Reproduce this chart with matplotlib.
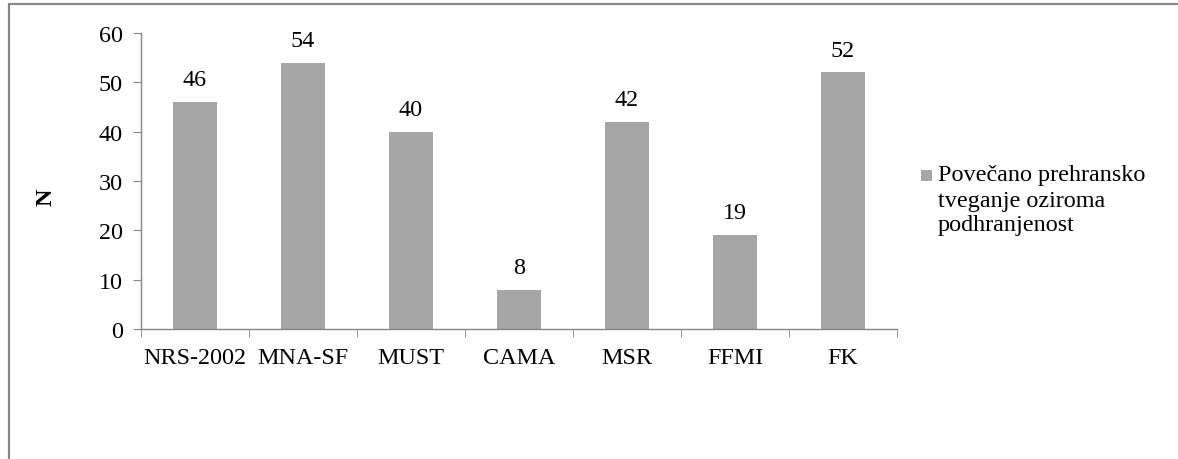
import matplotlib.pyplot as plt
from matplotlib.patches import Rectangle
import numpy as np

categories = ["NRS-2002", "MNA-SF", "MUST", "CAMA", "MSR", "FFMI", "FK"]
values = [46, 54, 40, 8, 42, 19, 52]
series_lines = ["Povečano prehransko", "tveganje oziroma", "podhranjenost"]
y_ticks = [0, 10, 20, 30, 40, 50, 60]

W, H = 1178, 460
fig = plt.figure(figsize=(W / 100, H / 100), dpi=100)
plt.rcParams['font.family'] = ['Liberation Serif', 'DejaVu Serif']

FS = 17.4
bar_color = "#A6A6A6"
axis_color = "#868686"

ax = fig.add_axes([141 / W, 1 - 330 / H, (897 - 141) / W, (330 - 34) / H])
x = np.arange(len(categories))
ax.bar(x, values, width=0.4, color=bar_color, zorder=2)
for xi, v in zip(x, values):
    ax.text(xi, v + 2.4, f"{v}", ha="center", va="bottom", fontsize=FS)

ax.set_xlim(-0.5, len(categories) - 0.5)
ax.set_ylim(0, 60)
ax.set_yticks(y_ticks)
ax.tick_params(axis="y", labelsize=FS, length=6, color=axis_color, direction="out", pad=7)
ax.set_xticks(x)
ax.set_xticklabels(categories)
ax.tick_params(axis="x", labelsize=FS, length=0, pad=13)
ax.set_xticks(np.arange(-0.5, len(categories) + 0.5, 1), minor=True)
ax.tick_params(axis="x", which="minor", length=6, color=axis_color, direction="out")
for s in ["top", "right"]:
    ax.spines[s].set_visible(False)
for s in ["left", "bottom"]:
    ax.spines[s].set_color(axis_color)
    ax.spines[s].set_linewidth(1.0)

ax.set_ylabel("N", fontsize=FS, fontweight="bold", va="center")
ax.yaxis.set_label_coords(-0.1257, 0.449)

# legend: swatch beside the first line of a three-line label
fig.patches.append(Rectangle((921 / W, 1 - 182 / H), 11 / W, 11 / H,
                             transform=fig.transFigure, facecolor=bar_color,
                             edgecolor="none"))
for i, line in enumerate(series_lines):
    fig.text(938 / W, 1 - (176 + 25 * i) / H, line, ha="left", va="center",
             fontsize=FS)

# outer chart frame (only the left and top edges fall inside the canvas)
fig.patches.append(Rectangle((9 / W, -0.05), 1.2, 1 - 5 / H + 0.05,
                             transform=fig.transFigure, fill=False,
                             edgecolor=axis_color, linewidth=1.6))

fig.savefig("out.png", dpi=100)
